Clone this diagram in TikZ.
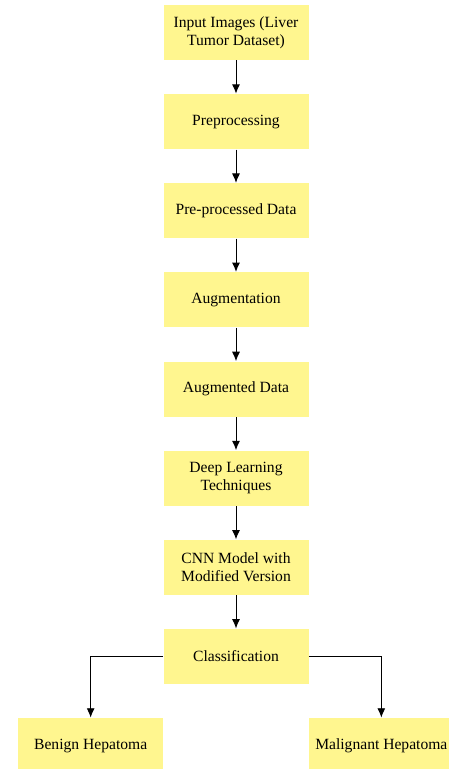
\documentclass[tikz,border=0pt]{standalone}
\usepackage{fontspec}
\setmainfont{Liberation Serif}
\usepackage{xcolor}
\usetikzlibrary{positioning}
\usetikzlibrary{arrows.meta}
\definecolor{boxyellow}{RGB}{255,246,143}

\begin{document}
\begin{tikzpicture}[x=0.75pt,y=-0.75pt,->,>={Latex[length=7pt,width=6pt]},line width=0.7pt,node distance=24.9pt,main node/.style={rectangle, fill=boxyellow, minimum width=108.75pt, minimum height=41.25pt, align=center, inner sep=2pt, font=\fontsize{11.7}{13.5}\selectfont}]
			\useasboundingbox (0,0) rectangle (449,769);
			% Nodes
			\node[main node] (1) at (236,32.5) {Input Images (Liver\\Tumor Dataset)};
			\node[main node] (2) [below=of 1] {Preprocessing};
			\node[main node] (3) [below=of 2] {Pre-processed Data};
			\node[main node] (4) [below=of 3] {Augmentation};
			\node[main node] (5) [below=of 4] {Augmented Data};
			\node[main node] (6) [below=of 5] {Deep Learning\\Techniques};
			\node[main node] (7) [below=of 6] {CNN Model with\\Modified Version};
			\node[main node] (8) [below=of 7] {Classification};
			\node[main node] (9) [below=of 8, xshift=-109pt] {Benign Hepatoma};
			\node[main node] (10) [below=of 8, xshift=109pt] {Malignant Hepatoma};
			
			\path
			(1) edge (2)
			(2) edge (3)
			(3) edge (4)
			(4) edge (5)
			(5) edge (6)
			(6) edge (7)
			(7) edge (8);
			
			\draw (8.west) -| (9.north);
			\draw (8.east) -| (10.north);
			
		\end{tikzpicture}
\end{document}
